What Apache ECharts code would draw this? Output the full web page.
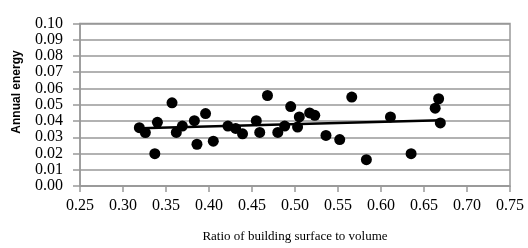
<!DOCTYPE html>
<html>
<head>
<meta charset="utf-8">
<script src="https://cdn.jsdelivr.net/npm/echarts@6/dist/echarts.min.js"></script>
<style>
html, body { margin: 0; padding: 0; background: #fff; }
#main { width: 528px; height: 248px; }
</style>
</head>
<body>
<div id="main"></div>
<script>
// ratio of surface to volume, annual energy
var ratio = [0.319, 0.326, 0.337, 0.340, 0.357, 0.362, 0.369, 0.383, 0.386, 0.396, 0.405,
    0.422, 0.431, 0.439, 0.455, 0.459, 0.468, 0.480, 0.488, 0.495, 0.503, 0.505, 0.517,
    0.523, 0.536, 0.552, 0.566, 0.583, 0.611, 0.635, 0.663, 0.667, 0.669];
var energy = [0.0359, 0.0329, 0.0199, 0.0392, 0.0512, 0.0330, 0.0369, 0.0402, 0.0257, 0.0446, 0.0276,
    0.0369, 0.0354, 0.0321, 0.0402, 0.0330, 0.0557, 0.0330, 0.0369, 0.0489, 0.0363, 0.0425, 0.0450,
    0.0435, 0.0311, 0.0286, 0.0547, 0.0162, 0.0425, 0.0199, 0.0479, 0.0537, 0.0388];
// trend line end points
var trendX = [0.32, 0.67];
var trendY = [0.0355, 0.0405];

var pts = [];
for (var i = 0; i < ratio.length; i++) {
    pts.push([ratio[i], energy[i]]);
}
var trend = [];
for (var j = 0; j < trendX.length; j++) {
    trend.push([trendX[j], trendY[j]]);
}

var gray = '#999999';
var chart = echarts.init(document.getElementById('main'));
chart.setOption({
    animation: false,
    grid: { left: 80, right: 18, top: 23.5, bottom: 52, show: true, borderColor: gray, borderWidth: 1.5 },
    xAxis: {
        type: 'value', min: 0.25, max: 0.75, interval: 0.05,
        name: 'Ratio of building surface to volume',
        nameLocation: 'middle', nameGap: 44,
        nameTextStyle: { fontFamily: 'Liberation Serif', fontSize: 13, color: '#000' },
        axisLine: { show: true, lineStyle: { color: gray, width: 1.5 } },
        axisTick: { show: true, length: 6, lineStyle: { color: gray, width: 1.5 } },
        axisLabel: {
            margin: 12, fontFamily: 'Liberation Serif', fontSize: 16, color: '#000',
            formatter: function (v) { return v.toFixed(2); }
        },
        splitLine: { show: false }
    },
    yAxis: {
        type: 'value', min: 0, max: 0.1, interval: 0.01,
        axisLine: { show: true, lineStyle: { color: gray, width: 1.5 } },
        axisTick: { show: true, length: 7, lineStyle: { color: gray, width: 1.5 } },
        axisLabel: {
            margin: 17, fontFamily: 'Liberation Serif', fontSize: 16, color: '#000',
            formatter: function (v) { return v.toFixed(2); }
        },
        splitLine: { show: true, lineStyle: { color: gray, width: 1.5 } }
    },
    graphic: [{
        type: 'text', x: 17, y: 92, rotation: Math.PI / 2,
        style: {
            text: 'Annual energy', align: 'center', verticalAlign: 'middle',
            fontFamily: 'Liberation Sans', fontSize: 12, fontWeight: 'bold', fill: '#000'
        }
    }],
    series: [{
        type: 'scatter', data: pts, symbolSize: 11,
        itemStyle: { color: '#000', opacity: 1 }
    }, {
        type: 'line', data: trend, symbol: 'none',
        lineStyle: { color: '#000', width: 2.5 }
    }]
});
</script>
</body>
</html>
